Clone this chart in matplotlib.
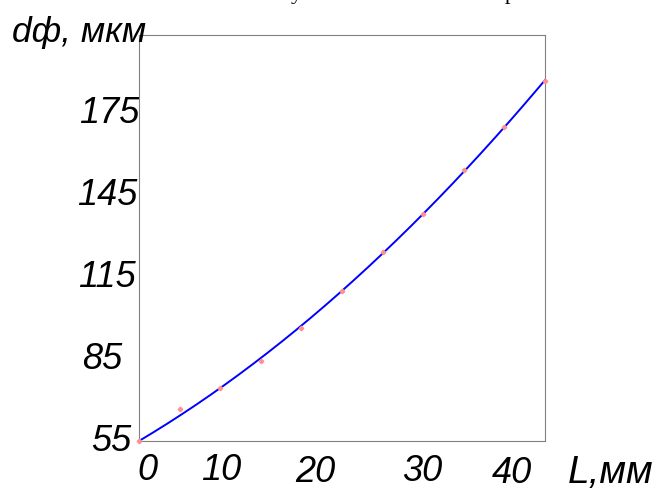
import matplotlib.pyplot as plt
import matplotlib.transforms as mtransforms
import numpy as np

# measured points: length L (mm) and deviation d (um)
length_mm = [0, 4, 8, 12, 16, 20, 24, 28, 32, 36, 40]
deviation_um = [53.5, 65.2, 73.0, 82.8, 94.8, 108.4, 122.4, 136.3, 152.4, 168.3, 185.0]

y_ticks = [55, 85, 115, 145, 175]
y_tick_labels = ["55", "85", "115", "145", "175"]
# x tick labels sit where they were typed in the source figure
x_tick_pos = [0.79, 8.08, 17.34, 27.88, 36.75]
x_tick_labels = ["0", "10", "20", "30", "40"]

W, H, DPI = 669, 489, 100
FONT = ["Liberation Sans", "DejaVu Sans"]


def main():
    fig = plt.figure(figsize=(W / DPI, H / DPI), dpi=DPI)
    ax = fig.add_axes([139 / W, 47 / H, 406 / W, 406 / H])

    # cubic trend line, pinned to the first point
    weights = np.ones(len(length_mm))
    weights[0] = 20.0
    coeffs = np.polyfit(length_mm, deviation_um, 3, w=weights)
    xs = np.linspace(min(length_mm), max(length_mm), 200)
    ax.plot(xs, np.polyval(coeffs, xs), color="#0000ff", lw=1.4, zorder=3,
            clip_on=False)
    ax.plot(length_mm, deviation_um, ls="none", marker="D", ms=2.3,
            color="#ff9090", mec="#ff9090", zorder=4, clip_on=False)

    ax.set_xlim(0, 40)
    ax.set_ylim(53.5, 53.5 + 406 / 2.7375)

    for s in ax.spines.values():
        s.set_color("#808080")
        s.set_linewidth(0.8)

    ax.set_yticks(y_ticks)
    ax.set_yticklabels(y_tick_labels)
    ax.set_xticks(x_tick_pos)
    ax.set_xticklabels(x_tick_labels)
    ax.tick_params(length=0)
    ax.tick_params(axis="y", pad=2)
    ax.tick_params(axis="x", pad=8)

    for lab in ax.get_xticklabels() + ax.get_yticklabels():
        lab.set_fontfamily(FONT)
        lab.set_fontstyle("italic")
        lab.set_fontsize(26)

    # small per-label shifts (pixels) seen in the source figure
    y_shift = [-5, -14, 0, 1, 3]
    for lab, dx in zip(ax.get_yticklabels(), y_shift):
        lab.set_transform(lab.get_transform()
                          + mtransforms.ScaledTranslation(dx / DPI, 0, fig.dpi_scale_trans))
    x_shift = [0, 0, -2, -1, -3]
    for lab, dy in zip(ax.get_xticklabels(), x_shift):
        lab.set_transform(lab.get_transform()
                          + mtransforms.ScaledTranslation(0, dy / DPI, fig.dpi_scale_trans))

    fig.text(12 / W, 1 - 42 / H, "dф, мкм", family=FONT, style="italic",
             fontsize=25.5, va="baseline", ha="left")
    fig.text(568 / W, 1 - 483 / H, "L,мм", family=FONT, style="italic",
             fontsize=28, va="baseline", ha="left")

    # descenders of the caption line above, cut off by the page
    fig.text(296 / W, 1 + 1 / H, "у", family="Liberation Serif",
             fontsize=16, va="baseline", ha="center")
    fig.text(510 / W, 1 + 1 / H, "р", family="Liberation Serif",
             fontsize=16, va="baseline", ha="center")

    fig.savefig("out.png", dpi=DPI)
    plt.close(fig)


if __name__ == "__main__":
    main()
